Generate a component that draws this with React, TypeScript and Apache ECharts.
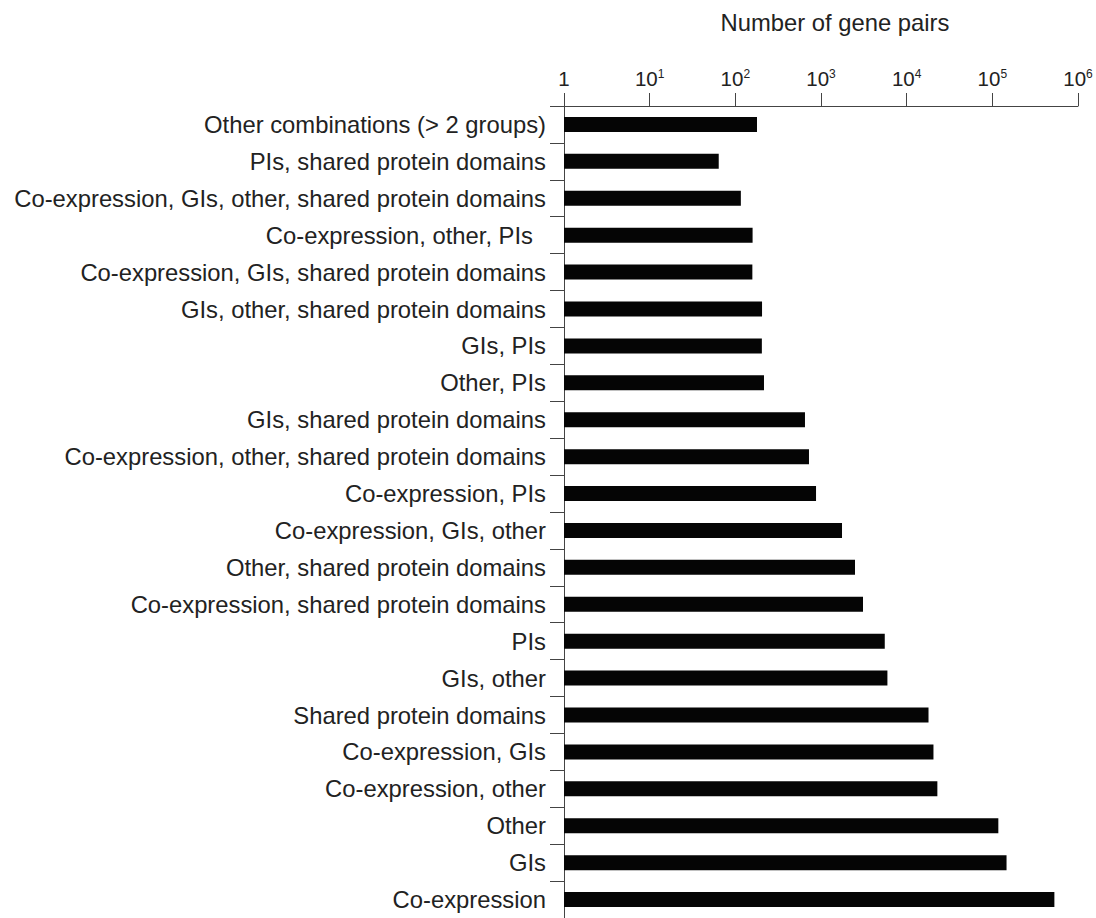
import React, { useEffect, useRef } from "react";
import * as echarts from "echarts";

const categories = [
  "Other combinations (> 2 groups)",
  "PIs, shared protein domains",
  "Co-expression, GIs, other, shared protein domains",
  "Co-expression, other, PIs",
  "Co-expression, GIs, shared protein domains",
  "GIs, other, shared protein domains",
  "GIs, PIs",
  "Other, PIs",
  "GIs, shared protein domains",
  "Co-expression, other, shared protein domains",
  "Co-expression, PIs",
  "Co-expression, GIs, other",
  "Other, shared protein domains",
  "Co-expression, shared protein domains",
  "PIs",
  "GIs, other",
  "Shared protein domains",
  "Co-expression, GIs",
  "Co-expression, other",
  "Other",
  "GIs",
  "Co-expression",
];

const genePairs = [
  179, 64, 116, 159, 158, 205, 204, 216, 650, 724, 875, 1759, 2494, 3092,
  5550, 5960, 17990, 20550, 22820, 117500, 146500, 530000,
];

const axisTitle = "Number of gene pairs";
const axisMin = 1;
const axisMax = 1e6;

const FONT = "'Liberation Sans', Arial, Helvetica, sans-serif";
const TEXT = "#222";
const LINE = "#444";

export default function App() {
  const ref = useRef<HTMLDivElement>(null);

  useEffect(() => {
    if (!ref.current) return;
    const chart = echarts.init(ref.current, null, { renderer: "svg" });
    chart.setOption({
      animation: false,
      backgroundColor: "#fff",
      textStyle: { fontFamily: FONT },
      grid: { left: 564, right: 18, top: 106, bottom: -1, containLabel: false },
      graphic: [
        {
          type: "text",
          x: 835,
          y: 22.5,
          style: {
            text: axisTitle,
            fontSize: 23.8,
            fontFamily: FONT,
            fill: TEXT,
            align: "center",
            verticalAlign: "middle",
          },
        },
      ],
      xAxis: {
        type: "log",
        logBase: 10,
        position: "top",
        min: axisMin,
        max: axisMax,
        splitNumber: 6,
        axisLine: { show: true, lineStyle: { color: LINE, width: 1 } },
        axisTick: { show: true, inside: false, length: 13, lineStyle: { color: LINE, width: 1 } },
        minorTick: { show: false },
        splitLine: { show: false },
        axisLabel: {
          margin: 18,
          color: TEXT,
          formatter: (v: number) => {
            const e = Math.round(Math.log10(v));
            return e === 0 ? "{n|1}" : `{n|10}{s|${e}}`;
          },
          rich: {
            n: { fontSize: 20.5, lineHeight: 20, color: TEXT, fontFamily: FONT },
            s: { fontSize: 12, lineHeight: 12, color: TEXT, fontFamily: FONT, verticalAlign: "top" },
          },
        },
      },
      yAxis: {
        type: "category",
        data: categories,
        inverse: true,
        axisLine: { show: true, lineStyle: { color: LINE, width: 1 } },
        axisTick: { show: true, length: 14, alignWithLabel: false, lineStyle: { color: LINE, width: 1 } },
        splitLine: { show: false },
        axisLabel: {
          interval: 0,
          margin: 18,
          fontSize: 23.8,
          color: TEXT,
          fontFamily: FONT,
          formatter: (v: string) => (v === "Co-expression, other, PIs" ? `{p|${v}}` : v),
          rich: {
            p: { fontSize: 23.8, color: TEXT, fontFamily: FONT, padding: [0, 13, 0, 0] },
          },
        },
      },
      series: [
        {
          type: "bar",
          data: genePairs,
          barWidth: 15,
          silent: true,
          itemStyle: { color: "#050505" },
        },
      ],
    });
    return () => chart.dispose();
  }, []);

  return (
    <div
      ref={ref}
      style={{ position: "absolute", left: 0, top: 0, width: 1096, height: 918, background: "#fff" }}
    />
  );
}
